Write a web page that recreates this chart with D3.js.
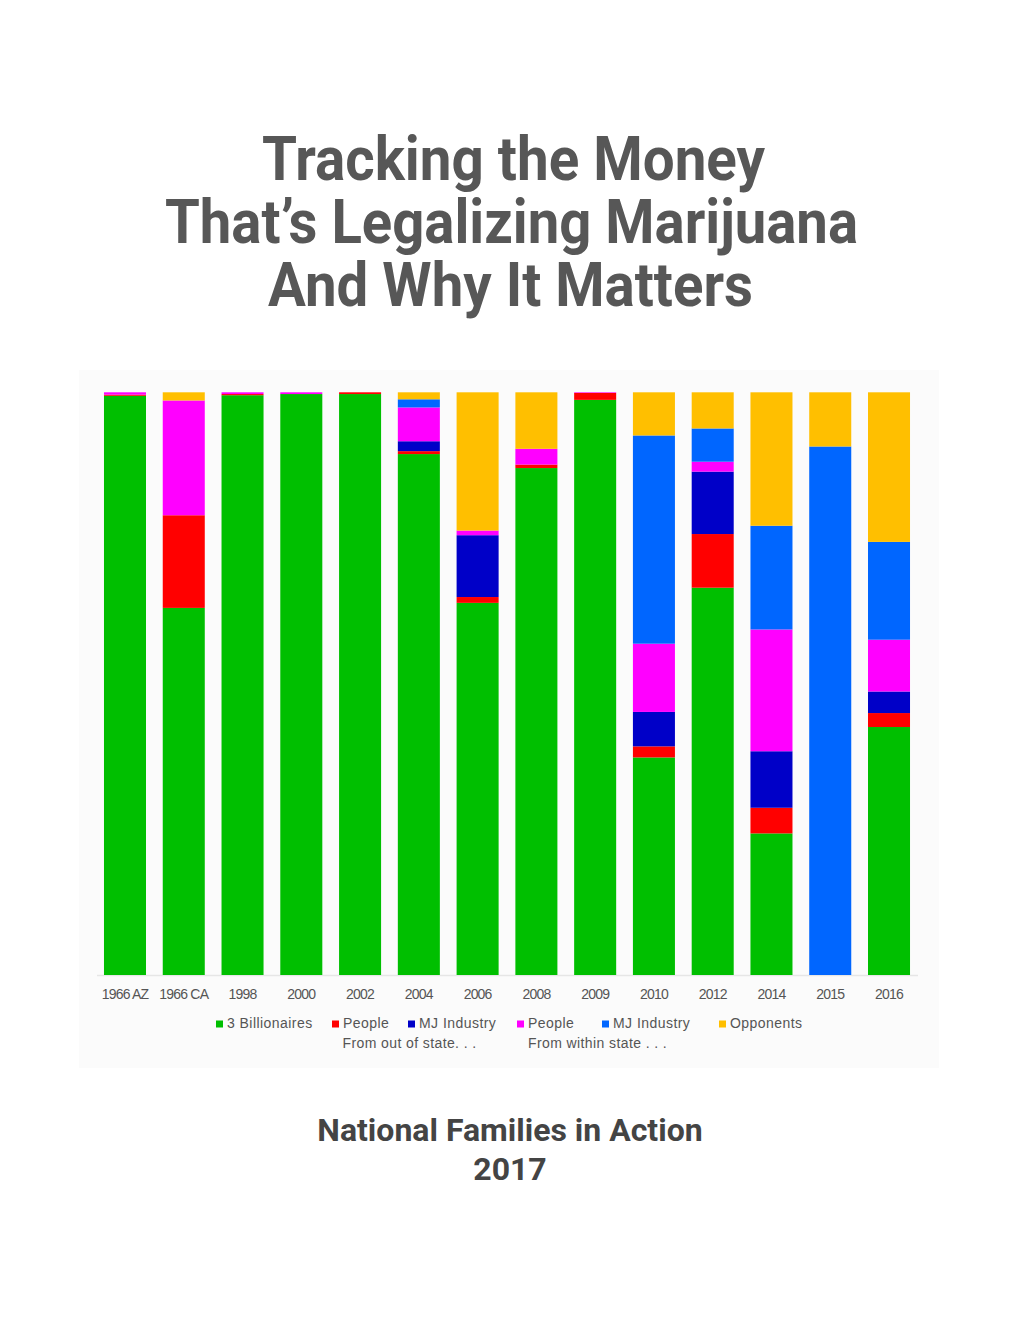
<!DOCTYPE html>
<html>
<head>
<meta charset="utf-8">
<script src="https://cdn.jsdelivr.net/npm/d3@7"></script>
<style>
  html, body { margin: 0; padding: 0; background: #ffffff; }
  svg { display: block; }
</style>
</head>
<body>
<svg id="chart" width="1020" height="1320"></svg>
<script>
// ---------- DATA ----------
const categories = ["1966 AZ", "1966 CA", "1998", "2000", "2002", "2004", "2006", "2008", "2009", "2010", "2012", "2014", "2015", "2016"];
// shares (%) of money per campaign, stacked bottom -> top
const billionaires   = [99.4, 63.0, 99.5, 99.7, 99.7, 89.4, 63.8, 87.0, 98.7, 37.3, 66.4, 24.3, 0.0, 42.6];
const peopleOut      = [0.2, 15.9, 0.2, 0.0, 0.3, 0.5, 1.0, 0.6, 1.2, 1.9, 9.2, 4.4, 0.0, 2.4];
const industryOut    = [0.0, 0.0, 0.0, 0.0, 0.0, 1.7, 10.6, 0.0, 0.0, 5.9, 10.7, 9.7, 0.0, 3.7];
const peopleWithin   = [0.4, 19.7, 0.3, 0.3, 0.0, 5.8, 0.8, 2.7, 0.1, 11.7, 1.7, 20.9, 0.0, 8.9];
const industryWithin = [0.0, 0.0, 0.0, 0.0, 0.0, 1.4, 0.0, 0.0, 0.0, 35.7, 5.7, 17.8, 90.7, 16.8];
const opponents      = [0.0, 1.4, 0.0, 0.0, 0.0, 1.2, 23.7, 9.7, 0.0, 7.4, 6.2, 22.9, 9.3, 25.7];

const seriesKeys   = ["billionaires", "peopleOut", "industryOut", "peopleWithin", "industryWithin", "opponents"];
const seriesLabels = ["3 Billionaires", "People", "MJ Industry", "People", "MJ Industry", "Opponents"];
const seriesColors = ["#00bf00", "#ff0000", "#0000c8", "#ff00ff", "#0066ff", "#ffbf00"];
const legendSubLabels = ["From out of state. . .", "From within state . . ."];

const titleLines = ["Tracking the Money", "That\u2019s Legalizing Marijuana", "And Why It Matters"];
const footerLines = ["National Families in Action", "2017"];

// ---------- BUILD ----------
const seriesArrays = [billionaires, peopleOut, industryOut, peopleWithin, industryWithin, opponents];
const table = categories.map((c, i) => {
  const row = { category: c };
  seriesKeys.forEach((k, j) => row[k] = seriesArrays[j][i]);
  return row;
});

const svg = d3.select("#chart");

// Title
const titleG = svg.append("g");
const titleSpecs = [
  { y: 179.5, w: 503, cx: 513.5 },
  { y: 243,   w: 693, cx: 511.5 },
  { y: 305.5, w: 485, cx: 510.5 }
];
titleLines.forEach((t, i) => {
  titleG.append("text")
    .attr("x", titleSpecs[i].cx)
    .attr("y", titleSpecs[i].y)
    .attr("text-anchor", "middle")
    .attr("textLength", titleSpecs[i].w)
    .attr("lengthAdjust", "spacingAndGlyphs")
    .style("font-family", "Roboto, 'Noto Sans', sans-serif")
    .style("font-weight", 700)
    .style("font-size", "61px")
    .style("fill", "#575757")
    .text(t);
});

// Chart panel background
svg.append("rect")
  .attr("x", 79).attr("y", 370)
  .attr("width", 860).attr("height", 698)
  .attr("fill", "#fbfbfb");

const plot = { left: 95.6, right: 918.4, top: 392.3, bottom: 975 };

const x = d3.scaleBand()
  .domain(categories)
  .range([plot.left, plot.right])
  .paddingInner(0.285)
  .paddingOuter(0.1425);

const y = d3.scaleLinear()
  .domain([0, 1])
  .range([plot.bottom, plot.top]);

const color = d3.scaleOrdinal().domain(seriesKeys).range(seriesColors);

const stack = d3.stack().keys(seriesKeys).offset(d3.stackOffsetExpand);
const stacked = stack(table);

// Axis baseline
svg.append("line")
  .attr("x1", 97).attr("x2", 918)
  .attr("y1", plot.bottom + 0.5).attr("y2", plot.bottom + 0.5)
  .attr("stroke", "#e6e6e6").attr("stroke-width", 1.5);

const layers = svg.append("g").selectAll("g")
  .data(stacked)
  .join("g")
  .attr("fill", d => color(d.key));

layers.selectAll("rect")
  .data(d => d)
  .join("rect")
  .attr("x", d => x(d.data.category))
  .attr("width", x.bandwidth())
  .attr("y", d => y(d[1]))
  .attr("height", d => Math.max(0, y(d[0]) - y(d[1])));

// X axis labels
const xAxis = d3.axisBottom(x).tickSize(0).tickPadding(0);
const axisG = svg.append("g")
  .attr("transform", `translate(0, ${plot.bottom})`)
  .call(xAxis);
axisG.select(".domain").remove();
axisG.selectAll("text")
  .attr("y", 24)
  .attr("dy", 0)
  .style("font-family", "'Liberation Sans', Arial, sans-serif")
  .style("font-size", "14px")
  .style("letter-spacing", "-0.8px")
  .style("fill", "#555");

// Legend
const legendX = [216, 332, 408, 517, 602, 719];
const legend = svg.append("g");
seriesKeys.forEach((k, i) => {
  legend.append("rect")
    .attr("x", legendX[i]).attr("y", 1020.5)
    .attr("width", 7).attr("height", 7)
    .attr("fill", seriesColors[i]);
  legend.append("text")
    .attr("x", legendX[i] + 11)
    .attr("y", 1028)
    .style("font-family", "'Liberation Sans', Arial, sans-serif")
    .style("font-size", "14px")
    .style("letter-spacing", "0.45px")
    .style("fill", "#555")
    .text(seriesLabels[i]);
});
[[342.5, legendSubLabels[0]], [528, legendSubLabels[1]]].forEach(([lx, t]) => {
  legend.append("text")
    .attr("x", lx).attr("y", 1047.5)
    .style("font-family", "'Liberation Sans', Arial, sans-serif")
    .style("font-size", "14px")
    .style("letter-spacing", "0.4px")
    .style("fill", "#555")
    .text(t);
});

// Footer
[[1141, footerLines[0]], [1180, footerLines[1]]].forEach(([fy, t]) => {
  svg.append("text")
    .attr("x", 510).attr("y", fy)
    .attr("text-anchor", "middle")
    .style("font-family", "Roboto, 'Noto Sans', sans-serif")
    .style("font-weight", 700)
    .style("font-size", "32px")
    .style("fill", "#444")
    .text(t);
});
</script>
</body>
</html>
